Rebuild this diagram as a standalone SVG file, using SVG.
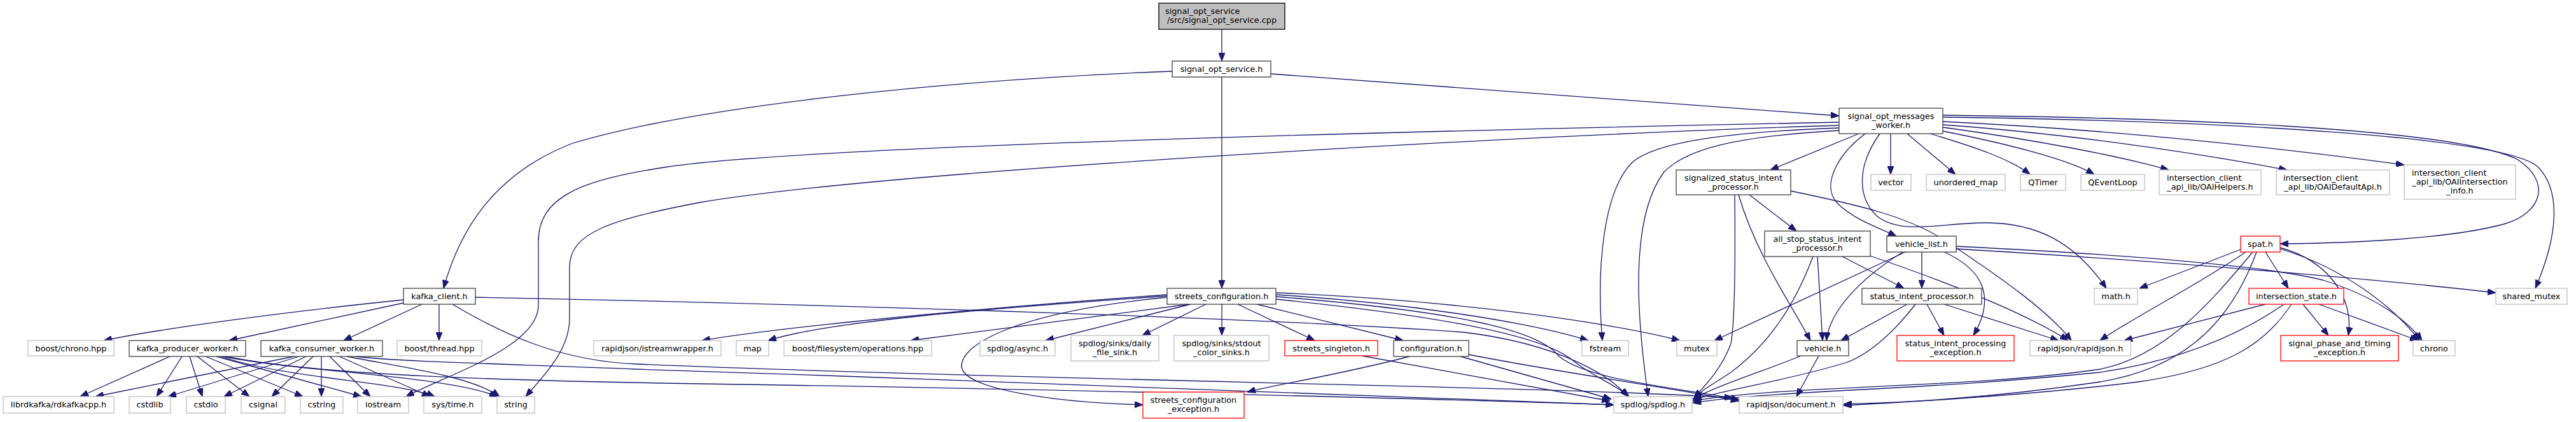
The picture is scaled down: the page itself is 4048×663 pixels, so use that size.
<svg xmlns="http://www.w3.org/2000/svg" width="4048" height="663" viewBox="0 0 4048 663">
<defs>
<style>
.n rect{fill:#fff;stroke:#404040;stroke-width:1.3}
.x rect{fill:#fff;stroke:#bfbfbf;stroke-width:1.3}
.r rect{fill:#fff;stroke:#ff0000;stroke-width:1.3}
.root rect{fill:#bfbfbf;stroke:#000;stroke-width:1.3}
text{font-family:"DejaVu Sans","Liberation Sans",sans-serif;font-size:12.8px;fill:#000;text-anchor:middle}
text.s{text-anchor:start}
#edges path{fill:none;stroke:#191970;stroke-width:1.3;marker-end:url(#a)}
</style>
<marker id="a" markerUnits="userSpaceOnUse" markerWidth="13" markerHeight="10" viewBox="0 0 13 10" refX="13" refY="5" orient="auto"><path d="M0,0 L13,5 L0,10 z" fill="#191970" stroke="#191970"/></marker>
</defs>
<rect width="4048" height="663" fill="#fff"/>
<g id="edges">
<path d="M1920,46 L1920,96"/>
<path d="M1842,112 C1500,125 1100,165 900,225 C770,275 720,370 697,453"/>
<path d="M1920,121 L1920,453"/>
<path d="M1997,116 L2890,182"/>
<path d="M634,471 C450,490 260,515 163,535"/>
<path d="M634,476 L360,535"/>
<path d="M663,478 L540,535"/>
<path d="M690,478 L690,535"/>
<path d="M747,467 C1300,478 2000,500 2300,522 C2450,540 2530,590 2558,623"/>
<path d="M711,478 C790,525 880,567 1000,572 C1600,597 2450,607 2723,625"/>
<path d="M267,560 L126,623"/>
<path d="M286,560 L246,623"/>
<path d="M298,560 L318,623"/>
<path d="M310,560 L392,623"/>
<path d="M323,560 L476,623"/>
<path d="M340,560 L568,623"/>
<path d="M347,560 C450,595 630,600 683,623"/>
<path d="M350,560 C480,585 700,590 782,623"/>
<path d="M355,560 C500,590 800,598 1100,603 C1700,612 2300,628 2536,636"/>
<path d="M462,560 L150,623"/>
<path d="M470,560 L264,623"/>
<path d="M481,560 L352,623"/>
<path d="M492,560 L427,623"/>
<path d="M505,560 L505,623"/>
<path d="M518,560 L582,623"/>
<path d="M533,560 L676,623"/>
<path d="M545,560 C620,575 740,590 785,623"/>
<path d="M559,560 C620,568 800,572 1000,580 C1600,600 2300,625 2536,636"/>
<path d="M1834,463 C1600,480 1250,510 1103,535"/>
<path d="M1834,465 C1550,485 1300,505 1207,535"/>
<path d="M1869,478 L1431,535"/>
<path d="M1871,478 L1643,535"/>
<path d="M1895,478 L1795,527"/>
<path d="M1920,478 L1920,527"/>
<path d="M1945,478 L2066,535"/>
<path d="M1975,478 L2205,535"/>
<path d="M2005,463 C2200,475 2400,505 2496,535"/>
<path d="M2005,460 C2250,470 2500,500 2640,535"/>
<path d="M1834,467 C1600,490 1511,540 1511,575 C1511,610 1650,632 1796,636"/>
<path d="M2005,470 C2250,495 2420,525 2470,565 C2500,590 2540,605 2560,623"/>
<path d="M2005,466 C2300,490 2420,520 2450,560 C2500,600 2650,610 2733,628"/>
<path d="M2215,560 C2100,590 2000,605 1960,616"/>
<path d="M2295,560 L2532,627"/>
<path d="M2308,557 C2450,585 2600,605 2733,630"/>
<path d="M2140,559 L2530,630"/>
<path d="M2890,192 C2500,200 1300,225 1050,262 C910,283 846,310 846,380 L846,480 C846,545 700,590 638,623"/>
<path d="M2890,197 C2400,212 1400,268 1100,318 C960,345 895,365 895,420 L895,500 C895,550 855,590 826,623"/>
<path d="M2890,201 C2700,208 2600,225 2565,255 C2520,300 2508,420 2518,535"/>
<path d="M2890,205 C2720,215 2650,235 2615,270 C2570,330 2565,450 2590,623"/>
<path d="M2921,210 L2782,267"/>
<path d="M2931,210 C2885,245 2860,295 2890,322 C2915,345 2950,357 2980,371"/>
<path d="M2954,210 C2918,260 2918,310 2950,340 C2990,370 3050,350 3120,350 C3200,350 3260,380 3310,453"/>
<path d="M2971,210 L2971,274"/>
<path d="M2997,210 L3073,274"/>
<path d="M3033,210 C3100,230 3160,250 3190,274"/>
<path d="M3053,206 C3150,225 3250,250 3291,274"/>
<path d="M3053,200 C3200,220 3330,245 3408,267"/>
<path d="M3053,196 C3250,210 3450,240 3594,267"/>
<path d="M3053,191 C3350,205 3600,235 3778,259"/>
<path d="M3053,181 C3400,185 3850,200 3955,250 C4010,285 3995,335 3935,352 C3850,375 3700,382 3583,383"/>
<path d="M3053,184 C3500,190 3935,215 3988,262 C4025,300 4020,370 3984,453"/>
<path d="M2726,306 C2727,400 2727,500 2720,540 C2705,580 2680,605 2662,625"/>
<path d="M2732,306 C2760,400 2810,470 2845,535"/>
<path d="M2749,306 L2823,363"/>
<path d="M2814,300 C2920,322 3000,340 3060,380 C3150,440 3220,490 3255,535"/>
<path d="M2849,403 C2820,480 2780,540 2720,585 C2690,605 2675,612 2662,626"/>
<path d="M2856,403 L2864,535"/>
<path d="M2895,403 L2992,453"/>
<path d="M2939,402 C3050,440 3180,490 3250,535"/>
<path d="M2994,396 L2694,535"/>
<path d="M2990,396 C2920,440 2875,490 2870,535"/>
<path d="M3020,396 L3020,453"/>
<path d="M3055,396 C3120,425 3135,470 3101,527"/>
<path d="M3074,387 C3300,398 3550,415 3650,440 C3730,465 3780,500 3806,535"/>
<path d="M3074,391 C3400,410 3750,440 3922,460"/>
<path d="M2997,478 L2893,535"/>
<path d="M3010,478 C2970,530 2930,560 2900,570 C2800,600 2720,610 2661,628"/>
<path d="M3028,478 L3055,527"/>
<path d="M3055,478 L3235,535"/>
<path d="M2830,559 C2780,580 2700,605 2660,627"/>
<path d="M2858,559 L2823,623"/>
<path d="M3521,392 L3362,453"/>
<path d="M3529,396 C3450,450 3350,500 3300,535"/>
<path d="M3540,396 C3470,480 3400,560 3300,580 C3100,610 2800,605 2660,630"/>
<path d="M3546,396 C3500,520 3420,580 3300,600 C3100,630 2950,633 2897,635"/>
<path d="M3560,396 L3596,453"/>
<path d="M3583,389 C3660,410 3700,470 3690,527"/>
<path d="M3583,391 C3680,420 3760,480 3802,535"/>
<path d="M3560,478 L3338,535"/>
<path d="M3589,478 C3500,540 3400,570 3300,585 C3000,615 2800,612 2660,633"/>
<path d="M3601,478 C3560,540 3500,580 3360,600 C3200,620 3000,632 2897,637"/>
<path d="M3619,478 L3659,527"/>
<path d="M3644,478 L3800,535"/>
</g>
<g id="n1" class="root"><rect x="1821" y="5" width="198" height="41"/><text class="s" x="1831" y="22">signal_opt_service</text><text x="1920" y="36">/src/signal_opt_service.cpp</text></g>
<g id="n2" class="n"><rect x="1842" y="96" width="155" height="25"/><text x="1919.5" y="113">signal_opt_service.h</text></g>
<g id="n3" class="n"><rect x="634" y="453" width="113" height="25"/><text x="690.5" y="470">kafka_client.h</text></g>
<g id="n4" class="n"><rect x="1834" y="453" width="171" height="25"/><text x="1919.5" y="470">streets_configuration.h</text></g>
<g id="n5" class="n"><rect x="2890" y="170" width="163" height="40"/><text x="2971.5" y="187">signal_opt_messages</text><text x="2971.5" y="201">_worker.h</text></g>
<g id="n6" class="x"><rect x="44" y="535" width="135" height="24"/><text x="111.5" y="552">boost/chrono.hpp</text></g>
<g id="n7" class="n"><rect x="203" y="535" width="183" height="25"/><text x="294.5" y="552">kafka_producer_worker.h</text></g>
<g id="n8" class="n"><rect x="410" y="535" width="191" height="25"/><text x="505.5" y="552">kafka_consumer_worker.h</text></g>
<g id="n9" class="x"><rect x="624" y="535" width="133" height="24"/><text x="690.5" y="552">boost/thread.hpp</text></g>
<g id="n10" class="x"><rect x="5" y="623" width="174" height="26"/><text x="92" y="640">librdkafka/rdkafkacpp.h</text></g>
<g id="n11" class="x"><rect x="203" y="623" width="65" height="26"/><text x="235.5" y="640">cstdlib</text></g>
<g id="n12" class="x"><rect x="293" y="623" width="61" height="26"/><text x="323.5" y="640">cstdio</text></g>
<g id="n13" class="x"><rect x="379" y="623" width="69" height="26"/><text x="413.5" y="640">csignal</text></g>
<g id="n14" class="x"><rect x="472" y="623" width="67" height="26"/><text x="505.5" y="640">cstring</text></g>
<g id="n15" class="x"><rect x="562" y="623" width="80" height="26"/><text x="602" y="640">iostream</text></g>
<g id="n16" class="x"><rect x="666" y="623" width="91" height="26"/><text x="711.5" y="640">sys/time.h</text></g>
<g id="n17" class="x"><rect x="781" y="623" width="59" height="26"/><text x="810.5" y="640">string</text></g>
<g id="n18" class="x"><rect x="933" y="535" width="200" height="24"/><text x="1033" y="552">rapidjson/istreamwrapper.h</text></g>
<g id="n19" class="x"><rect x="1157" y="535" width="51" height="24"/><text x="1182.5" y="552">map</text></g>
<g id="n20" class="x"><rect x="1232" y="535" width="232" height="24"/><text x="1348" y="552">boost/filesystem/operations.hpp</text></g>
<g id="n21" class="x"><rect x="1540" y="535" width="118" height="24"/><text x="1599" y="552">spdlog/async.h</text></g>
<g id="n22" class="x"><rect x="1683" y="527" width="138" height="40"/><text x="1752" y="544">spdlog/sinks/daily</text><text x="1752" y="558">_file_sink.h</text></g>
<g id="n23" class="x"><rect x="1845" y="527" width="149" height="40"/><text x="1919.5" y="544">spdlog/sinks/stdout</text><text x="1919.5" y="558">_color_sinks.h</text></g>
<g id="n24" class="r"><rect x="2019" y="535" width="146" height="24"/><text x="2092" y="552">streets_singleton.h</text></g>
<g id="n25" class="n"><rect x="2190" y="535" width="118" height="25"/><text x="2249" y="552">configuration.h</text></g>
<g id="n26" class="x"><rect x="2486" y="535" width="73" height="24"/><text x="2522.5" y="552">fstream</text></g>
<g id="n27" class="x"><rect x="2635" y="535" width="63" height="24"/><text x="2666.5" y="552">mutex</text></g>
<g id="n28" class="r"><rect x="1796" y="616" width="159" height="41"/><text x="1875.5" y="633">streets_configuration</text><text x="1875.5" y="647">_exception.h</text></g>
<g id="n29" class="x"><rect x="2536" y="623" width="123" height="26"/><text x="2597.5" y="640">spdlog/spdlog.h</text></g>
<g id="n30" class="x"><rect x="2733" y="623" width="163" height="26"/><text x="2814.5" y="640">rapidjson/document.h</text></g>
<g id="n31" class="n"><rect x="2634" y="267" width="180" height="39"/><text x="2724" y="284">signalized_status_intent</text><text x="2724" y="298">_processor.h</text></g>
<g id="n32" class="x"><rect x="2940" y="274" width="63" height="25"/><text x="2971.5" y="291">vector</text></g>
<g id="n33" class="x"><rect x="3027" y="274" width="124" height="25"/><text x="3089" y="291">unordered_map</text></g>
<g id="n34" class="x"><rect x="3175" y="274" width="71" height="25"/><text x="3210.5" y="291">QTimer</text></g>
<g id="n35" class="x"><rect x="3270" y="274" width="100" height="25"/><text x="3320" y="291">QEventLoop</text></g>
<g id="n36" class="x"><rect x="3393" y="267" width="160" height="39"/><text class="s" x="3405" y="284">intersection_client</text><text x="3473" y="298">_api_lib/OAIHelpers.h</text></g>
<g id="n37" class="x"><rect x="3577" y="267" width="178" height="39"/><text class="s" x="3588" y="284">intersection_client</text><text x="3666" y="298">_api_lib/OAIDefaultApi.h</text></g>
<g id="n38" class="x"><rect x="3778" y="259" width="175" height="54"/><text class="s" x="3790" y="276">intersection_client</text><text x="3865.5" y="290">_api_lib/OAIIntersection</text><text x="3865.5" y="304">_info.h</text></g>
<g id="n39" class="n"><rect x="2773" y="363" width="166" height="40"/><text x="2856" y="380">all_stop_status_intent</text><text x="2856" y="394">_processor.h</text></g>
<g id="n40" class="n"><rect x="2965" y="371" width="109" height="25"/><text x="3019.5" y="388">vehicle_list.h</text></g>
<g id="n41" class="n"><rect x="2926" y="453" width="188" height="25"/><text x="3020" y="470">status_intent_processor.h</text></g>
<g id="n42" class="n"><rect x="2824" y="535" width="81" height="24"/><text x="2864.5" y="552">vehicle.h</text></g>
<g id="n43" class="r"><rect x="2981" y="527" width="184" height="40"/><text x="3073" y="544">status_intent_processing</text><text x="3073" y="558">_exception.h</text></g>
<g id="n44" class="x"><rect x="3190" y="535" width="158" height="24"/><text x="3269" y="552">rapidjson/rapidjson.h</text></g>
<g id="n45" class="x"><rect x="3291" y="453" width="68" height="25"/><text x="3325" y="470">math.h</text></g>
<g id="n46" class="r"><rect x="3521" y="371" width="62" height="25"/><text x="3552" y="388">spat.h</text></g>
<g id="n47" class="r"><rect x="3534" y="453" width="149" height="25"/><text x="3608.5" y="470">intersection_state.h</text></g>
<g id="n48" class="r"><rect x="3584" y="527" width="185" height="40"/><text x="3676.5" y="544">signal_phase_and_timing</text><text x="3676.5" y="558">_exception.h</text></g>
<g id="n49" class="x"><rect x="3792" y="535" width="66" height="24"/><text x="3825" y="552">chrono</text></g>
<g id="n50" class="x"><rect x="3922" y="453" width="112" height="25"/><text x="3978" y="470">shared_mutex</text></g>
</svg>
